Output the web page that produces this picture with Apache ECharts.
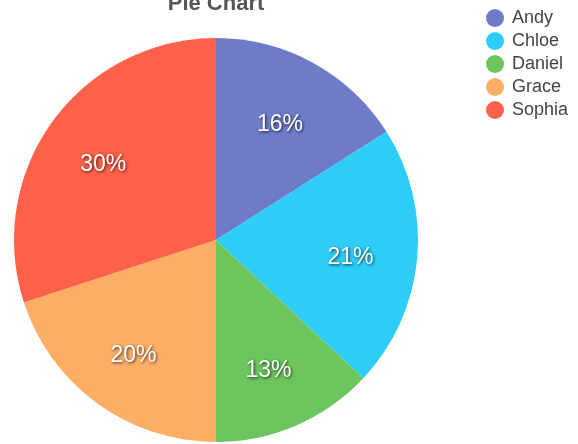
<!DOCTYPE html>
<html>
<head>
<meta charset="utf-8">
<script src="https://cdn.jsdelivr.net/npm/echarts@6/dist/echarts.min.js"></script>
<style>html,body{margin:0;padding:0;background:#fff}#c{width:578px;height:444px}</style>
</head>
<body>
<div id="c"></div>
<script>
const names = ['Andy', 'Chloe', 'Daniel', 'Grace', 'Sophia'];
const values = [16, 21, 13, 20, 30];
const colors = ['#6e7bc9', '#2dcdf8', '#6cc55d', '#fdae66', '#fe614a'];

const data = names.map((n, i) => ({ name: n, value: values[i], itemStyle: { color: colors[i] } }));
const labelData = names.map((n, i) => ({ name: n, value: values[i] }));

const chart = echarts.init(document.getElementById('c'));
chart.setOption({
  animation: false,
  title: {
    text: 'Pie Chart',
    left: 216, top: -7, textAlign: 'center', padding: 0,
    textStyle: { fontFamily: 'Liberation Sans, Arial', fontSize: 22, fontWeight: 'bold', color: '#555' }
  },
  legend: {
    orient: 'vertical', left: 481, top: 4,
    icon: 'circle', itemWidth: 18, itemHeight: 18, itemGap: 5,
    data: names,
    textStyle: { fontFamily: 'Liberation Sans, Arial', fontSize: 18, color: '#444', padding: [0, 0, 0, 3] }
  },
  series: [
    {
      type: 'pie', center: [216, 240], radius: [0, 202], startAngle: 90, clockwise: true,
      data: data, label: { show: false }, labelLine: { show: false },
      emphasis: { disabled: true }
    },
    {
      type: 'pie', center: [214, 245], radius: [66, 202], startAngle: 90, clockwise: true,
      data: labelData, silent: true, legendHoverLink: false,
      itemStyle: { color: 'rgba(0,0,0,0)', borderWidth: 0 },
      label: {
        show: true, position: 'inside', formatter: '{c}%',
        fontFamily: 'Liberation Sans, Arial', fontSize: 23, color: '#fff',
        textShadowColor: 'rgba(0,0,0,0.75)', textShadowBlur: 3, textShadowOffsetX: 1, textShadowOffsetY: 1
      },
      labelLine: { show: false }
    }
  ]
});
</script>
</body>
</html>
